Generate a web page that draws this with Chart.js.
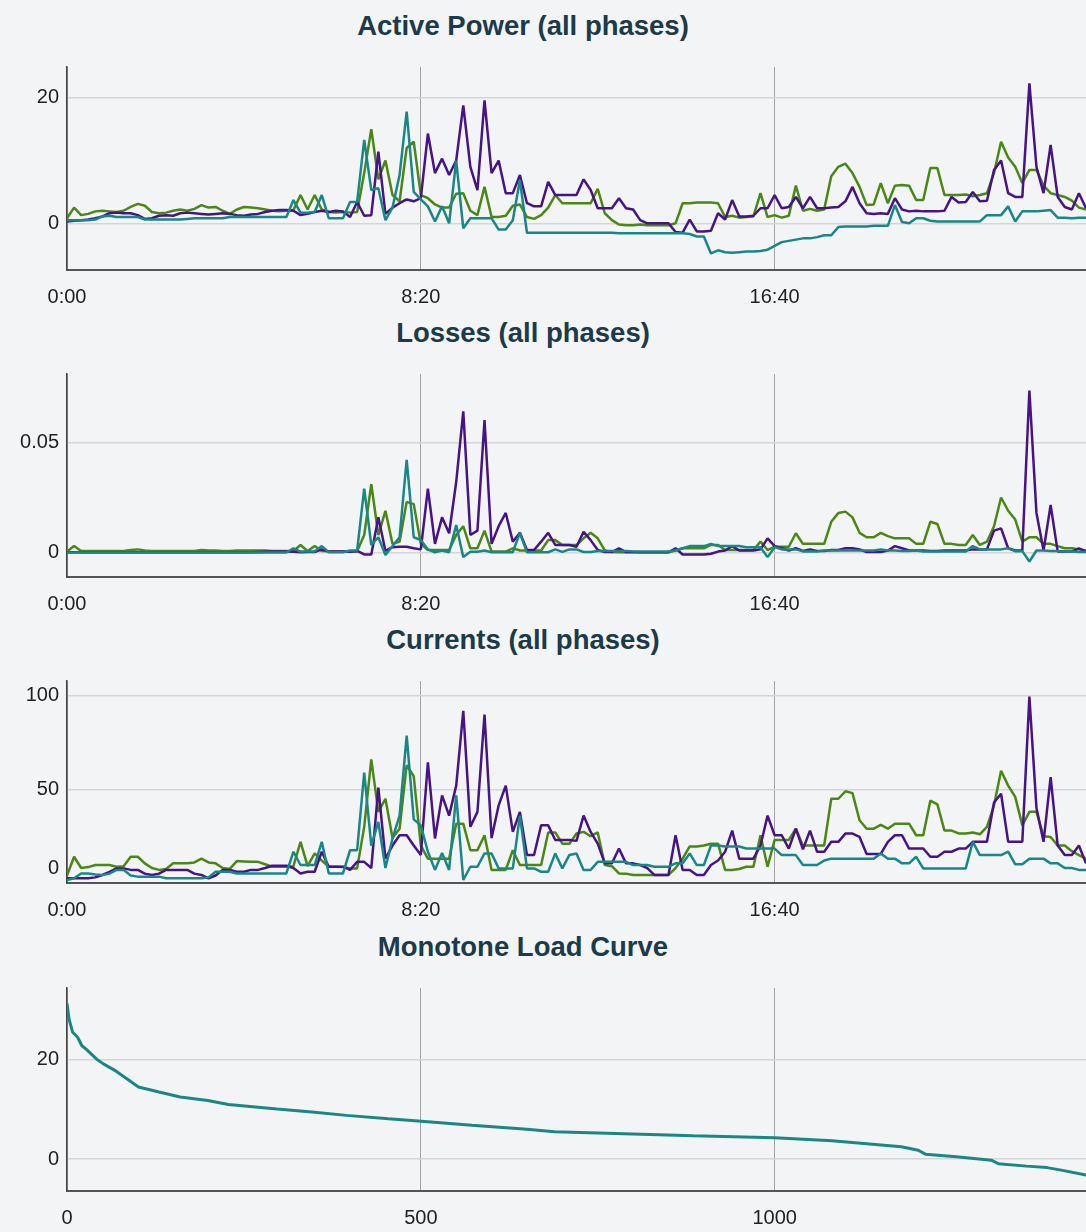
<!DOCTYPE html>
<html lang="en">
<head>
    <meta charset="UTF-8">
    <title>Phase measurements</title>
    <script src="https://cdn.jsdelivr.net/npm/chart.js"></script>
    <style>
        body { margin: 0; background: #f3f4f6; font-family: "Liberation Sans", Arial, sans-serif; }
        .panel { width: 1086px; height: 307px; }
        .panel h2 {
            box-sizing: border-box; width: 1086px; height: 47px; margin: 0; padding-right: 40px;
            line-height: 52px; font-size: 27.5px; font-weight: bold; color: #1c3a48; text-align: center;
        }
        canvas { display: block; }
    </style>
</head>
<body>
    <div class="panel"><h2>Active Power (all phases)</h2><canvas id="powerChart" width="1086" height="260"></canvas></div>
    <div class="panel"><h2>Losses (all phases)</h2><canvas id="lossChart" width="1086" height="260"></canvas></div>
    <div class="panel"><h2>Currents (all phases)</h2><canvas id="currentChart" width="1086" height="260"></canvas></div>
    <div class="panel"><h2>Monotone Load Curve</h2><canvas id="loadChart" width="1086" height="260"></canvas></div>

    <script>
        // time grid: one sample every 10 minutes over the day
        var minutes = Array.from({ length: 145 }, function (_, i) { return i * 10; });
        var timeTicks = [0, 500, 1000];
        var timeTickLabels = ['0:00', '8:20', '16:40'];

        // active power per phase
        var powerGreen = [
            0.8, 2.5, 1.3, 1.5, 1.9, 2.0, 1.9, 1.8, 2.0, 2.6, 3.1, 2.8,
            1.8, 1.6, 1.7, 2.0, 2.2, 2.0, 2.3, 2.9, 2.5, 2.6, 2.0, 1.5,
            2.2, 2.6, 2.5, 2.4, 2.2, 2.0, 1.9, 2.0, 2.1, 4.5, 2.2, 4.5,
            2.2, 1.8, 1.7, 1.8, 1.7, 1.8, 8.0, 15.0, 7.0, 10.0, 4.5, 3.5,
            12.0, 13.0, 4.5, 4.0, 3.0, 2.5, 2.5, 4.7, 4.8, 2.0, 1.3, 5.8,
            1.0, 1.0, 1.2, 2.8, 3.0, 1.0, 0.7, 1.3, 2.5, 4.5, 3.2, 3.2,
            3.2, 3.2, 3.2, 5.5, 1.6, 0.5, -0.2, -0.3, -0.3, -0.2, -0.3, -0.3,
            -0.3, -0.3, 0.0, 3.2, 3.2, 3.3, 3.3, 3.3, 3.2, 1.0, 1.2, 0.9,
            1.0, 1.1, 4.8, 1.0, 1.3, 0.9, 1.2, 6.0, 2.0, 2.3, 2.0, 2.2,
            7.5, 9.0, 9.5, 8.0, 5.8, 2.9, 3.0, 6.4, 3.2, 6.0, 6.1, 6.0,
            3.7, 3.7, 8.8, 8.8, 4.5, 4.5, 4.5, 4.6, 4.3, 4.5, 4.8, 8.0,
            13.0, 10.5, 9.0, 6.4, 8.5, 8.5, 6.0, 4.8, 4.5, 4.2, 3.6, 2.5,
            2.2
        ];
        var powerPurple = [
            0.3, 0.4, 0.5, 0.6, 0.8, 1.1, 1.6, 1.7, 1.6, 1.6, 1.3, 0.7,
            0.8, 1.2, 1.3, 1.2, 1.6, 1.7, 1.6, 1.5, 1.4, 1.5, 1.6, 1.5,
            1.3, 1.2, 1.4, 1.5, 1.8, 2.0, 2.1, 2.1, 2.0, 1.3, 1.5, 1.8,
            2.0, 1.8, 2.0, 1.9, 1.0, 3.4, 1.2, 1.3, 11.4, 1.5, 2.5, 3.2,
            3.8, 3.5, 4.0, 14.3, 8.0, 10.3, 7.7, 10.0, 18.8, 9.0, 5.3, 19.6,
            8.0, 10.0, 4.8, 4.8, 7.7, 3.2, 2.7, 2.7, 6.6, 4.5, 4.5, 4.5,
            4.5, 7.0, 5.3, 2.4, 2.4, 2.4, 4.0, 2.4, 2.2, 0.5, 0.0, 0.0,
            0.0, 0.0, -1.4, -1.5, 0.6, -1.3, -1.3, -1.2, 1.6, 0.6, 3.7, 1.1,
            1.1, 1.2, 2.4, 2.4, 4.5, 2.4, 2.6, 4.2, 2.4, 4.2, 2.4, 2.4,
            2.5, 2.6, 3.5, 5.8, 3.2, 1.6, 1.5, 1.6, 1.5, 4.0, 2.2, 1.9,
            2.0, 1.9, 1.9, 1.9, 2.0, 4.2, 3.3, 3.4, 5.0, 3.5, 3.6, 8.5,
            10.0, 4.8, 4.2, 4.2, 22.3, 9.0, 4.8, 12.5, 4.2, 2.6, 2.2, 4.8,
            2.4
        ];
        var powerTeal = [
            0.5, 0.5, 0.5, 0.5, 0.6, 1.1, 1.2, 1.0, 1.0, 1.0, 1.0, 0.6,
            0.6, 0.6, 0.6, 0.6, 0.6, 0.7, 0.8, 0.8, 0.8, 0.8, 0.8, 1.0,
            1.0, 1.0, 1.0, 1.0, 1.0, 1.0, 1.0, 1.0, 3.7, 1.7, 1.7, 1.8,
            4.5, 0.8, 0.8, 0.8, 3.4, 3.4, 13.3, 5.3, 5.6, 0.5, 2.5, 7.7,
            17.8, 5.0, 3.8, 2.7, 0.3, 2.7, 0.0, 10.0, -0.8, 0.8, 0.8, 0.8,
            0.8, -1.0, -1.0, 0.5, 6.9, -1.5, -1.5, -1.5, -1.5, -1.5, -1.5, -1.5,
            -1.5, -1.5, -1.5, -1.5, -1.5, -1.5, -1.6, -1.6, -1.6, -1.6, -1.6, -1.6,
            -1.6, -1.6, -1.6, -1.6, -1.7, -2.1, -2.1, -4.8, -4.3, -4.6, -4.7, -4.6,
            -4.5, -4.5, -4.4, -4.2, -3.6, -3.0, -2.8, -2.6, -2.4, -2.4, -2.2, -1.9,
            -1.9, -0.6, -0.5, -0.5, -0.5, -0.5, -0.4, -0.4, -0.4, 2.9, 0.2, 0.0,
            0.8, 0.8, 0.4, 0.3, 0.3, 0.3, 0.3, 0.3, 0.3, 0.3, 1.3, 1.3,
            1.3, 2.7, 0.3, 1.9, 1.9, 1.9, 2.0, 2.1, 0.9, 0.9, 0.8, 0.9,
            0.9
        ];

        // losses per phase
        var lossGreen = [
            0.0005, 0.003, 0.0008, 0.0008, 0.0008, 0.0008, 0.0008, 0.0008, 0.0008, 0.0012, 0.0015, 0.001,
            0.0008, 0.0008, 0.0008, 0.0008, 0.0008, 0.0008, 0.0008, 0.0012, 0.001, 0.001, 0.0008, 0.0008,
            0.001, 0.001, 0.001, 0.001, 0.001, 0.0008, 0.0008, 0.0008, 0.0008, 0.0035, 0.0008, 0.003,
            0.0008, 0.0006, 0.0006, 0.0006, 0.0006, 0.0006, 0.008, 0.031, 0.008, 0.019, 0.004, 0.005,
            0.023, 0.022, 0.004, 0.0012, 0.0012, 0.0012, 0.0012, 0.008, 0.012, 0.002, 0.002, 0.01,
            0.0005, 0.0005, 0.0005, 0.002, 0.001, 0.001, 0.001, 0.001, 0.0057, 0.0057, 0.0035, 0.0035,
            0.0035, 0.0065, 0.009, 0.0065, 0.001, 0.0003, 0.0002, 0.0002, 0.0002, 0.0002, 0.0002, 0.0002,
            0.0002, 0.0002, 0.001, 0.002, 0.002, 0.002, 0.002, 0.0035, 0.0035, 0.0012, 0.0012, 0.0012,
            0.0012, 0.0012, 0.005, 0.0012, 0.0027, 0.0027, 0.0027, 0.0088, 0.004, 0.004, 0.004, 0.004,
            0.014, 0.018, 0.0186, 0.016, 0.009, 0.007, 0.007, 0.009, 0.0075, 0.0065, 0.0065, 0.0065,
            0.004, 0.004, 0.014, 0.013, 0.004, 0.004, 0.0035, 0.0035, 0.008, 0.0035, 0.005, 0.012,
            0.025, 0.019, 0.015, 0.005, 0.007, 0.007, 0.004, 0.004, 0.003, 0.002, 0.002, 0.0015,
            0.001
        ];
        var lossPurple = [
            0.0002, 0.0002, 0.0002, 0.0002, 0.0002, 0.0002, 0.0002, 0.0002, 0.0002, 0.0002, 0.0002, 0.0002,
            0.0002, 0.0002, 0.0002, 0.0002, 0.0002, 0.0002, 0.0002, 0.0002, 0.0002, 0.0002, 0.0002, 0.0002,
            0.0002, 0.0002, 0.0002, 0.0003, 0.0004, 0.0005, 0.0005, 0.0005, 0.0004, 0.0002, 0.0003, 0.0003,
            0.0015, 0.0005, 0.0005, 0.0005, 0.0004, 0.0008, -0.0008, -0.0008, 0.016, 0.0008, 0.0025, 0.0027,
            0.0027, 0.002, 0.0015, 0.029, 0.004, 0.016, 0.0088, 0.032, 0.064, 0.008, 0.01, 0.06,
            0.004, 0.012, 0.018, 0.005, 0.009, 0.0012, 0.0012, 0.005, 0.009, 0.0035, 0.0035, 0.0035,
            0.0027, 0.0095, 0.0057, 0.0012, 0.0003, 0.0003, 0.002, 0.0003, 0.0003, 0.0002, 0.0002, 0.0002,
            0.0002, 0.0002, 0.002, -0.0008, -0.0008, -0.0008, -0.0008, -0.0005, 0.0005, 0.001, 0.003, 0.001,
            0.001, 0.001, 0.0015, 0.0065, 0.003, 0.002, 0.001, 0.002, 0.0008, 0.0015, 0.0008, 0.0008,
            0.0012, 0.0012, 0.002, 0.002, 0.0015, 0.0003, 0.0003, 0.0003, 0.001, 0.003, 0.002, 0.001,
            0.001, 0.001, 0.0008, 0.0008, 0.001, 0.001, 0.001, 0.001, 0.0015, 0.0015, 0.0015, 0.01,
            0.011, 0.002, 0.001, 0.001, 0.0734, 0.018, 0.001, 0.0216, 0.0005, 0.0005, 0.0005, 0.002,
            0.0005
        ];
        var lossTeal = [
            0.0001, 0.0001, 0.0001, 0.0001, 0.0001, 0.0001, 0.0001, 0.0001, 0.0001, 0.0001, 0.0001, 0.0001,
            0.0001, 0.0001, 0.0001, 0.0001, 0.0001, 0.0001, 0.0001, 0.0001, 0.0001, 0.0001, 0.0001, 0.0001,
            0.0001, 0.0001, 0.0001, 0.0001, 0.0001, 0.0001, 0.0001, 0.0001, 0.002, 0.0005, 0.0005, 0.0005,
            0.003, 0.0002, 0.0002, 0.0002, 0.001, 0.001, 0.029, 0.0035, 0.007, -0.001, 0.003, 0.007,
            0.042, 0.007, 0.0057, 0.0015, 0.0002, 0.001, 0.0002, 0.0125, -0.002, 0.0004, 0.0004, 0.001,
            0.0002, 0.0002, 0.0002, 0.0002, 0.009, 0.0002, 0.0002, 0.0002, 0.0002, 0.0015, 0.0004, 0.0015,
            0.0015, 0.0003, 0.0003, 0.0008, 0.0008, 0.0008, 0.0008, 0.0008, 0.0006, 0.0006, 0.0006, 0.0005,
            0.0005, 0.0005, 0.001, 0.002, 0.003, 0.003, 0.003, 0.004, 0.003, 0.003, 0.003, 0.003,
            0.0025, 0.0025, 0.0025, -0.002, 0.0025, 0.0015, 0.0015, 0.0015, 0.0006, 0.0006, 0.0006, 0.001,
            0.001, 0.001, 0.001, 0.001, 0.001, 0.001, 0.001, 0.0015, 0.001, 0.001, 0.0008, 0.0008,
            0.001, 0.0005, 0.0005, 0.0005, 0.0005, 0.0005, 0.0005, 0.0005, 0.003, 0.0015, 0.0015, 0.0015,
            0.0015, 0.002, 0.0007, 0.0007, -0.004, 0.001, 0.001, 0.0008, 0.0008, 0.0005, 0.0005, 0.0003,
            0.0003
        ];

        // currents per phase
        var currentGreen = [
            4, 14, 8, 8.5, 9.6, 9.6, 9.6, 8.7, 9.0, 14, 14, 10.5,
            8, 7, 7.5, 10.5, 10.5, 10.5, 11, 13, 11, 10.5, 8, 7.5,
            11.7, 11.5, 11.3, 11.3, 10, 8.7, 8.7, 8.7, 9.0, 22, 9, 15.8,
            12, 8.7, 8.7, 8.5, 7.8, 7.8, 30, 66, 38, 45, 24, 29,
            63, 57, 20, 13, 13, 13, 13, 31.7, 31.7, 17.5, 17.5, 25.5,
            7, 7, 7, 17.5, 9.6, 9.6, 9.6, 9.6, 27, 27, 21, 21,
            26.4, 27.3, 25, 27, 9.6, 9, 5.1, 5, 4.3, 4.3, 4.3, 4.3,
            4.3, 4.3, 8, 13, 19.5, 19.5, 20, 21, 21, 7, 7, 7.5,
            8.7, 8.7, 25.5, 8.7, 23, 23, 23, 29, 20, 20, 20, 20,
            45, 45, 49, 48, 33.5, 29, 29, 31, 29, 31.7, 31.7, 31.7,
            25.5, 25.5, 44, 42, 28, 28, 26.5, 26.5, 27, 26, 30, 41.5,
            60, 52, 46, 30.8, 38, 38, 25, 24.6, 20, 20, 17, 14.9,
            13
        ];
        var currentPurple = [
            2.5, 2.5, 2.5, 2.5, 3, 4.3, 6, 7.8, 7.8, 7, 7, 5,
            4.3, 5, 7, 7, 7, 7, 5, 4.3, 2.5, 4, 7, 7,
            6, 6, 7, 7, 8, 9.2, 9.2, 9.2, 8, 5.1, 6, 6,
            16.7, 8.7, 8.7, 8.7, 7, 11.3, 11.3, 8, 51, 13, 20, 25.5,
            25.5, 20, 15, 64.5, 23.8, 46.8, 36, 52, 92, 30, 38, 90,
            24, 41.5, 52, 27.3, 38, 15, 15, 30.8, 30.8, 23, 23, 23,
            22.5, 36, 27.3, 21, 10.5, 10.5, 18.4, 10.5, 10.5, 9.6, 8, 4.3,
            4.3, 4.3, 25.5, 7, 7, 4.3, 4.3, 9.6, 12, 16.7, 28, 13,
            13, 13, 20, 36, 25.5, 25.5, 18.4, 29, 18, 28, 16.7, 16.7,
            22, 22, 26.4, 26.4, 24.6, 15.5, 15.5, 15.5, 22, 25.5, 25.5, 18.4,
            18.4, 18.4, 14, 14, 16.7, 16.7, 18.4, 18.4, 22, 22, 22, 43,
            47.7, 22, 22, 22, 99.6, 40, 22, 56.6, 20, 14.9, 14.9, 20,
            10.5
        ];
        var currentTeal = [
            1.6, 2.5, 5.1, 5.1, 4.5, 4.3, 5, 7, 7, 4, 3.4, 3.4,
            3.4, 3.4, 2.5, 2.5, 2.5, 2.5, 2.5, 2.5, 3, 6, 6, 6,
            5.1, 5.1, 5.1, 5.1, 5.1, 5.1, 5.1, 5.1, 16.7, 9.6, 9.6, 9.6,
            22, 5.1, 5.1, 5.1, 17.5, 17.5, 59, 20, 32.6, 8, 23.8, 36,
            78.7, 34, 30.8, 16.7, 7, 16, 7, 46.8, 1.6, 8.7, 8.7, 15.8,
            15.8, 7.8, 7.8, 7.8, 36, 7.8, 7.8, 6, 6, 15.8, 7.8, 15,
            15.8, 7, 7, 11.3, 11.3, 11.3, 11.3, 11.3, 9.6, 9.6, 9.6, 8.7,
            8.7, 8.7, 10.5, 10.5, 15.8, 9.6, 9.6, 20, 20, 19.5, 19.5, 19.5,
            18.4, 18.4, 18.4, 18.4, 18.4, 14.9, 14.9, 14.9, 9.6, 9.6, 9.6, 12,
            13, 13, 13, 13, 13, 13, 13, 15.8, 13, 13, 10.5, 10.5,
            14, 7.8, 7.8, 7.8, 7.8, 7.8, 7.8, 7.8, 22, 14.9, 14.9, 14.9,
            14.9, 16.7, 10, 10, 13, 13, 13, 10.5, 10.5, 8, 8, 7,
            7
        ];

        // sorted load (monotone curve)
        var loadIndex = [0, 3, 8, 15, 21, 27, 42, 52, 67, 81, 101, 130, 160, 199, 228, 297, 346, 395, 454, 501,
            572, 650, 689, 787, 885, 1000, 1081, 1130, 1179, 1203, 1213, 1257, 1306, 1316, 1356, 1385, 1405, 1440];
        var loadValue = [31.3, 28.1, 25.5, 24.5, 22.8, 22.1, 20.1, 19.1, 17.9, 16.5, 14.5, 13.5, 12.5, 11.8, 11.0, 10.1, 9.5, 8.8, 8.1, 7.6,
            6.8, 6.0, 5.5, 5.1, 4.7, 4.3, 3.7, 3.1, 2.5, 1.8, 1.0, 0.5, -0.2, -0.9, -1.4, -1.7, -2.2, -3.2];
        var loadTicks = [0, 500, 1000];
        var loadTickLabels = ['0', '500', '1000'];

        var powerYTicks = [0, 20];
        var lossYTicks = [0, 0.05];
        var currentYTicks = [0, 50, 100];
        var loadYTicks = [0, 20];

        var GREEN = '#4b8714', PURPLE = '#461487', TEAL = '#198787';

        Chart.defaults.font.family = '"Liberation Sans", Arial, sans-serif';
        Chart.defaults.font.size = 20;
        Chart.defaults.color = '#222';

        function line(values, color, order, width) {
            return {
                data: values, borderColor: color, borderWidth: width || 2.5, order: order,
                pointRadius: 0, tension: 0, fill: false, borderJoinStyle: 'bevel'
            };
        }

        function makeChart(id, labels, datasets, yMin, yMax, yTicks, xTicks, xLabels, liftZero) {
            return new Chart(document.getElementById(id), {
                type: 'line',
                data: { labels: labels, datasets: datasets },
                options: {
                    responsive: false,
                    animation: false,
                    layout: { padding: { top: 20, right: 0, bottom: 0, left: 0 } },
                    plugins: { legend: { display: false }, tooltip: { enabled: false } },
                    scales: {
                        x: {
                            type: 'linear', min: 0, max: 1440,
                            afterBuildTicks: function (axis) { axis.ticks = xTicks.map(function (v) { return { value: v }; }); },
                            afterFit: function (axis) { axis.height = 37; },
                            grid: { color: '#a3a3a3', lineWidth: 1, drawTicks: false },
                            border: { color: '#555', width: 2 },
                            ticks: {
                                padding: 15, maxRotation: 0, autoSkip: false,
                                callback: function (v, i) { return xLabels[i]; }
                            }
                        },
                        y: {
                            min: yMin, max: yMax,
                            afterBuildTicks: function (axis) { axis.ticks = yTicks.map(function (v) { return { value: v }; }); },
                            afterFit: function (axis) { axis.width = 67; },
                            grid: { color: '#d5d5d5', lineWidth: 1.5, drawTicks: false },
                            border: { color: '#444', width: 1.5 },
                            ticks: {
                                padding: 8,
                                // a bottom label sitting on the axis is lifted above it
                                font: function (ctx) {
                                    var lift = liftZero && ctx.tick && ctx.tick.value === 0;
                                    return { size: 20, lineHeight: lift ? 1.5 : 1.2 };
                                },
                                callback: function (v) { return (liftZero && v === 0) ? ['0', ''] : String(v); }
                            }
                        }
                    }
                }
            });
        }

        makeChart('powerChart', minutes, [
            line(powerGreen, GREEN, 3), line(powerPurple, PURPLE, 2), line(powerTeal, TEAL, 1)
        ], -7.44, 24.9, powerYTicks, timeTicks, timeTickLabels, false);

        makeChart('lossChart', minutes, [
            line(lossGreen, GREEN, 3), line(lossPurple, PURPLE, 2), line(lossTeal, TEAL, 1)
        ], -0.011, 0.0809, lossYTicks, timeTicks, timeTickLabels, false);

        makeChart('currentChart', minutes, [
            line(currentGreen, GREEN, 3), line(currentPurple, PURPLE, 2), line(currentTeal, TEAL, 1)
        ], 0, 107.9, currentYTicks, timeTicks, timeTickLabels, true);

        makeChart('loadChart', loadIndex, [
            line(loadValue, '#1b8784', 1, 3)
        ], -6.4, 34.4, loadYTicks, loadTicks, loadTickLabels, false);
    </script>
</body>
</html>
